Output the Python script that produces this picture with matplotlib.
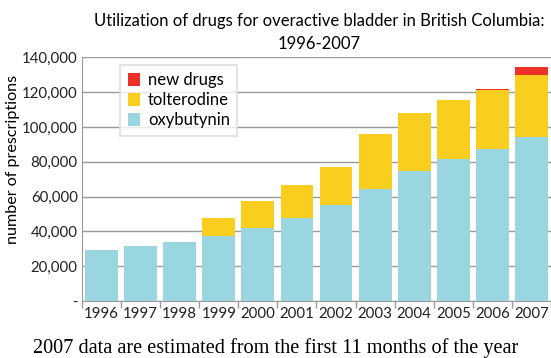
import numpy as np
import matplotlib
matplotlib.use("Agg")
import matplotlib.pyplot as plt
from matplotlib.ticker import FuncFormatter

# data
years = ["1996", "1997", "1998", "1999", "2000", "2001", "2002", "2003",
         "2004", "2005", "2006", "2007"]
oxybutynin = [29500, 31600, 34000, 37500, 42100, 47900, 55200, 64400,
              74800, 81700, 87400, 94300]
tolterodine = [0, 0, 0, 10200, 15400, 18800, 21800, 31600,
               33300, 33900, 34100, 35700]
new_drugs = [0, 0, 0, 0, 0, 0, 0, 0, 0, 0, 600, 4600]

plt.rcParams['font.family'] = ['Lato', 'DejaVu Sans']

fig = plt.figure(figsize=(5.51, 3.58), dpi=100)
ax = fig.add_axes([0.1488, 0.1592, 0.8512, 0.6802])

x = np.arange(len(years))
w = 0.84
blue = "#9ad6e0"
yellow = "#f9ce1e"
red = "#ec3126"

ax.bar(x, oxybutynin, w, color=blue, label="oxybutynin", zorder=3)
ax.bar(x, tolterodine, w, bottom=oxybutynin, color=yellow, label="tolterodine", zorder=3)
bot2 = np.array(oxybutynin) + np.array(tolterodine)
ax.bar(x, new_drugs, w, bottom=bot2, color=red, label="new drugs", zorder=3)

ax.set_xlim(-0.5, 11.43)
ax.set_ylim(0, 140000)
ax.set_yticks(np.arange(0, 140001, 20000))
ax.yaxis.set_major_formatter(FuncFormatter(lambda v, p: "-" if v == 0 else f"{int(v):,}"))
ax.grid(axis="y", color="#999999", linewidth=1.0, zorder=0)

ax.set_xticks(x)
ax.set_xticklabels(years)
ax.set_xticks(np.arange(-0.5, 12, 1), minor=True)
ax.tick_params(axis="x", which="major", length=0, pad=4, labelsize=10.8, labelcolor="#222222")
ax.tick_params(axis="x", which="minor", length=5, color="#999999", width=1)
ax.tick_params(axis="y", length=0, pad=3, labelsize=10.8, labelcolor="#222222")

for s in ["top", "right"]:
    ax.spines[s].set_visible(False)
ax.spines["left"].set_color("#999999")
ax.spines["bottom"].set_color("#999999")

ax.set_ylabel("number of prescriptions", fontsize=11.6)
ax.yaxis.set_label_coords(-0.132, 0.58)

h, l = ax.get_legend_handles_labels()
leg = ax.legend(h[::-1], l[::-1], loc="upper left", bbox_to_anchor=(0.064, 1.005),
                fontsize=12, frameon=True, fancybox=False, edgecolor="#dddddd",
                handlelength=0.75, handleheight=0.8, handletextpad=0.45,
                labelspacing=0.25, borderpad=0.45)
leg.get_frame().set_linewidth(1.5)

fig.text(0.58, 0.965, "Utilization of drugs for overactive bladder in British Columbia:\n1996-2007",
         ha="center", va="top", fontsize=12.0, linespacing=1.6)
fig.text(0.5, 0.028, "2007 data are estimated from the first 11 months of the year",
         ha="center", va="center", fontsize=14.6, family=["Liberation Serif"])

fig.savefig("out.png", dpi=100)
